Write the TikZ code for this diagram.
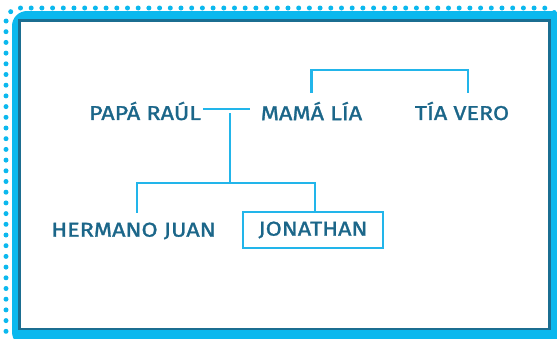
\documentclass[tikz,border=0pt]{standalone}
\usepackage{fontspec}
\newfontfamily\pfont{Fira Sans}[FakeStretch=1.17,FakeBold=1.4]
\begin{document}
\begin{tikzpicture}[x=1pt,y=-1pt,
  band/.style={fill=cyanband},
  person/.style={inner sep=0pt,text=txt,font=\fontsize{20}{20}\pfont,minimum height=38pt},
  link/.style={draw=linec,line width=2.2pt}]
\definecolor{cyanband}{HTML}{0BB8EE}
\definecolor{darkline}{HTML}{1B6E91}
\definecolor{txt}{HTML}{1B6689}
\definecolor{linec}{HTML}{22B5EA}
\useasboundingbox (0,0) rectangle (557,338);
% frame
\draw[cyanband,line width=5pt,line cap=round,dash pattern=on 0pt off 10.7pt,rounded corners=14pt]
  (6,342) -- (6,8) -- (558,8) -- (558,342);
\fill[band,rounded corners=15pt] (12,11) rectangle (566,347);
\draw[darkline,fill=white,line width=2.6pt] (19.3,20.3) rectangle (549.5,329);
% people
\node[person,minimum width=116pt] (papa) at (145,111) {PAPÁ RAÚL};
\node[person,minimum width=107pt] (mama) at (311.5,111) {MAMÁ LÍA};
\node[person,minimum width=100pt] (tia) at (462,111) {TÍA VERO};
\node[person,minimum width=173pt] (hermano) at (133.5,231) {HERMANO JUAN};
\node[person,draw=linec,line width=2.4pt,minimum width=140pt,minimum height=36pt] (jon) at (313,230) {JONATHAN};
% connectors
\coordinate (j) at (230,113);
\coordinate (k) at (230,183);
\draw[link] ([yshift=2pt]papa.east) -- ([xshift=-8pt,yshift=2pt]mama.west);
\draw[link] ([yshift=-1pt]mama.north) -- ++(0,-23) -| ([xshift=6pt,yshift=-1pt]tia.north);
\draw[link] (j) -- (k);
\draw[link] ([xshift=3.5pt,yshift=-1pt]hermano.north) |- (k) -| ([xshift=2pt]jon.north);
\end{tikzpicture}
\end{document}
